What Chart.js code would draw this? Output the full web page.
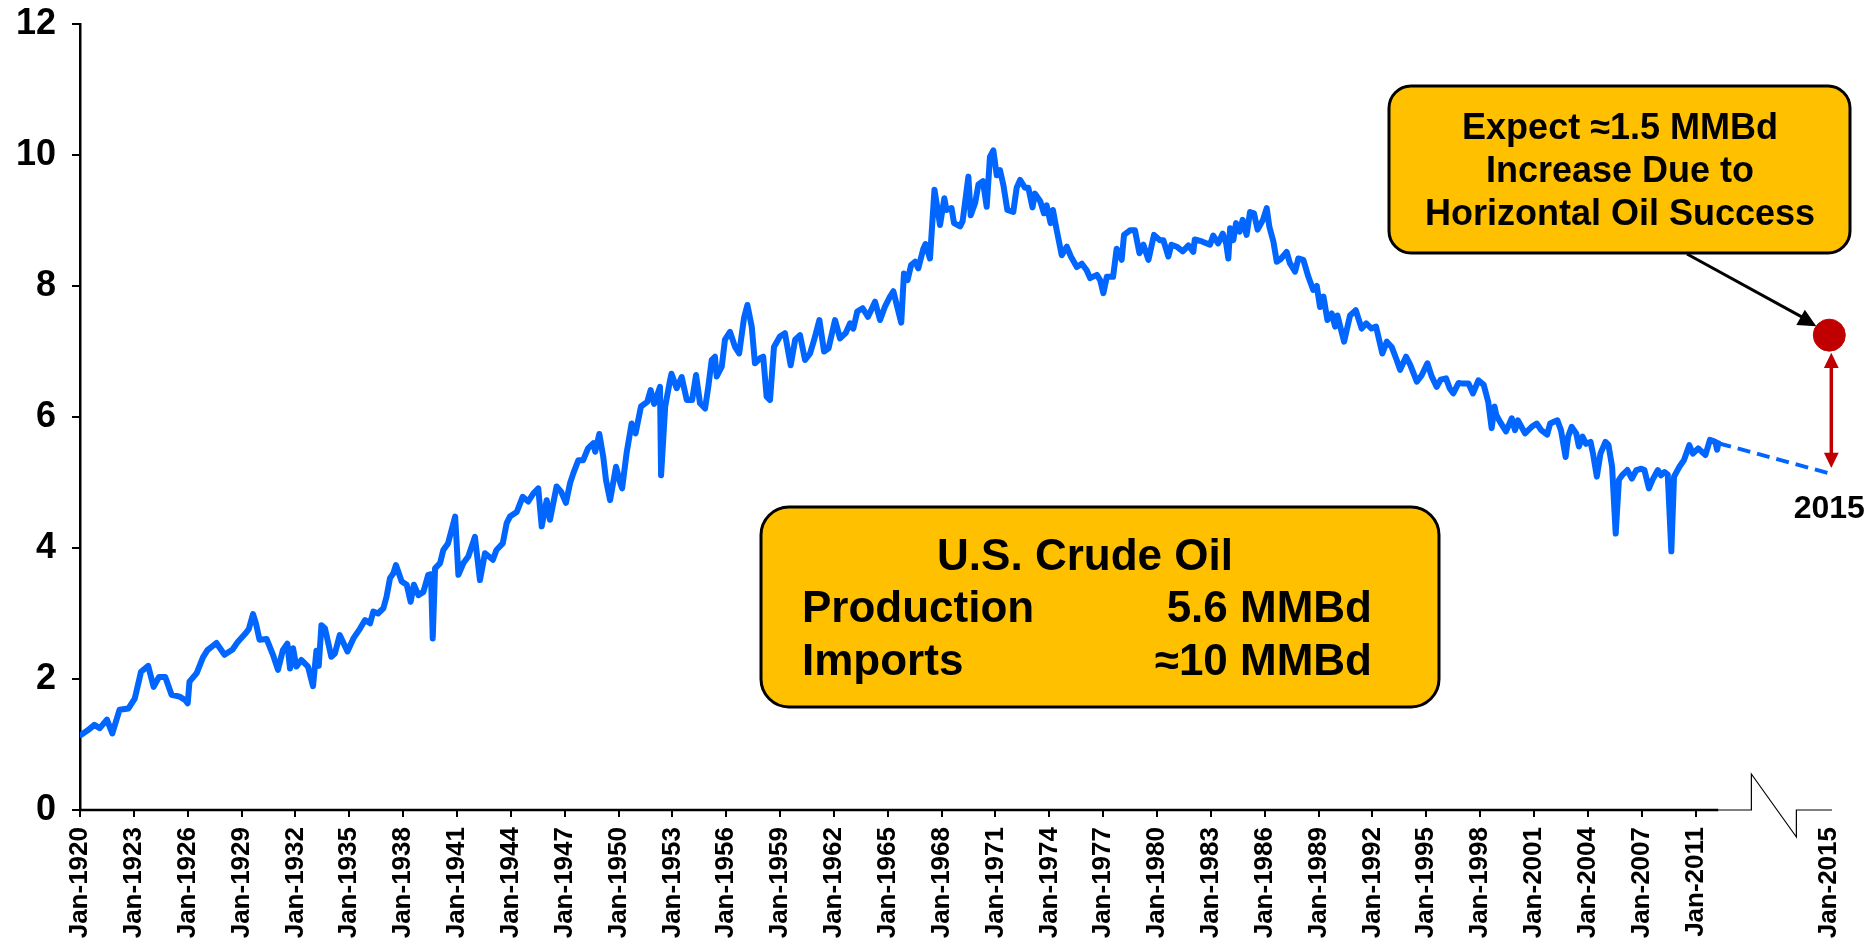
<!DOCTYPE html>
<html>
<head>
<meta charset="utf-8">
<script src="https://cdn.jsdelivr.net/npm/chart.js@4.4.1/dist/chart.umd.min.js"></script>
<style>
    html, body { margin: 0; padding: 0; background: #fff; }
    #wrap { width: 1872px; height: 941px; position: relative; }
</style>
</head>
<body>
<div id="wrap"><canvas id="oilChart"></canvas></div>
<script>
// U.S. crude oil production (MMBd)
// x is the position along the axis in years (Jan-1920 = 1920)
const prodYears = [
    1920.07, 1920.45, 1920.8, 1921.1, 1921.5, 1921.8, 1922.2, 1922.7, 1923.05, 1923.4,
    1923.8, 1924.1, 1924.4, 1924.75, 1925.1, 1925.55, 1925.85, 1926.0, 1926.1, 1926.5,
    1926.85, 1927.1, 1927.6, 1928.05, 1928.5, 1928.8, 1929.2, 1929.4, 1929.64, 1929.8,
    1930.0, 1930.4, 1930.75, 1931.03, 1931.3, 1931.55, 1931.7, 1931.87, 1932.05, 1932.33,
    1932.7, 1932.98, 1933.17, 1933.3, 1933.45, 1933.65, 1934.0, 1934.2, 1934.47, 1934.9,
    1935.23, 1935.6, 1935.88, 1936.16, 1936.34, 1936.6, 1936.9, 1937.08, 1937.27, 1937.45,
    1937.6, 1937.92, 1938.2, 1938.42, 1938.6, 1938.85, 1939.13, 1939.4, 1939.55, 1939.65,
    1939.78, 1940.06, 1940.24, 1940.5, 1940.9, 1941.08, 1941.36, 1941.63, 1942.0, 1942.28,
    1942.56, 1943.0, 1943.2, 1943.55, 1943.77, 1943.95, 1944.33, 1944.66, 1944.97, 1945.25,
    1945.53, 1945.72, 1946.0, 1946.18, 1946.55, 1946.8, 1947.07, 1947.3, 1947.48, 1947.76,
    1948.03, 1948.3, 1948.6, 1948.7, 1948.93, 1949.15, 1949.3, 1949.53, 1949.86, 1950.1,
    1950.2, 1950.45, 1950.73, 1950.95, 1951.25, 1951.6, 1951.79, 1951.98, 1952.31, 1952.37,
    1952.6, 1952.87, 1952.95, 1953.24, 1953.52, 1953.8, 1954.1, 1954.32, 1954.54, 1954.82,
    1955.0, 1955.19, 1955.37, 1955.47, 1955.75, 1955.93, 1956.21, 1956.49, 1956.72, 1956.99,
    1957.18, 1957.42, 1957.6, 1957.9, 1958.06, 1958.25, 1958.44, 1958.66, 1958.99, 1959.27,
    1959.59, 1959.84, 1960.11, 1960.39, 1960.67, 1960.9, 1961.19, 1961.45, 1961.7, 1962.06,
    1962.34, 1962.65, 1962.9, 1963.08, 1963.3, 1963.6, 1963.9, 1964.29, 1964.57, 1964.85,
    1965.13, 1965.31, 1965.5, 1965.75, 1965.9, 1966.1, 1966.3, 1966.52, 1966.7, 1966.98,
    1967.1, 1967.35, 1967.6, 1967.91, 1968.15, 1968.27, 1968.55, 1968.69, 1969.03, 1969.17,
    1969.49, 1969.62, 1969.87, 1970.05, 1970.3, 1970.51, 1970.69, 1970.88, 1971.07, 1971.25,
    1971.44, 1971.66, 1971.99, 1972.18, 1972.37, 1972.64, 1972.83, 1973.06, 1973.2, 1973.5,
    1973.7, 1973.85, 1974.07, 1974.2, 1974.41, 1974.69, 1974.97, 1975.2, 1975.53, 1975.81,
    1976.08, 1976.27, 1976.65, 1976.83, 1977.01, 1977.2, 1977.55, 1977.75, 1978.03, 1978.16,
    1978.49, 1978.77, 1979.02, 1979.24, 1979.52, 1979.83, 1980.16, 1980.35, 1980.63, 1980.8,
    1981.1, 1981.43, 1981.75, 1982.02, 1982.1, 1982.5, 1982.95, 1983.13, 1983.4, 1983.66,
    1983.85, 1983.97, 1984.07, 1984.25, 1984.4, 1984.6, 1984.77, 1984.99, 1985.18, 1985.4,
    1985.6, 1985.9, 1986.11, 1986.26, 1986.48, 1986.67, 1986.85, 1987.22, 1987.4, 1987.69,
    1987.87, 1988.15, 1988.43, 1988.7, 1988.9, 1989.08, 1989.27, 1989.49, 1989.73, 1989.92,
    1990.05, 1990.42, 1990.75, 1991.07, 1991.4, 1991.65, 1991.95, 1992.2, 1992.55, 1992.8,
    1993.07, 1993.35, 1993.54, 1993.87, 1994.1, 1994.47, 1994.75, 1995.06, 1995.3, 1995.58,
    1995.8, 1996.1, 1996.3, 1996.5, 1996.8, 1997.05, 1997.35, 1997.6, 1997.9, 1998.2,
    1998.45, 1998.64, 1998.8, 1998.9, 1999.1, 1999.44, 1999.76, 1999.94, 2000.1, 2000.5,
    2000.87, 2001.15, 2001.4, 2001.73, 2001.9, 2002.3, 2002.5, 2002.76, 2002.9, 2003.1,
    2003.35, 2003.5, 2003.7, 2003.9, 2004.15, 2004.3, 2004.5, 2004.7, 2004.98, 2005.15,
    2005.35, 2005.55, 2005.73, 2005.9, 2006.2, 2006.45, 2006.7, 2006.98, 2007.15, 2007.4,
    2007.6, 2007.9, 2008.07, 2008.27, 2008.45, 2008.65, 2008.8, 2009.1, 2009.35, 2009.65,
    2009.85, 2010.15, 2010.55, 2010.8, 2011.1, 2011.2, 2011.27
];
const prodValues = [
    1.15, 1.22, 1.30, 1.25, 1.38, 1.17, 1.53, 1.55, 1.70, 2.11,
    2.20, 1.88, 2.03, 2.03, 1.76, 1.73, 1.68, 1.63, 1.96, 2.09,
    2.33, 2.44, 2.55, 2.37, 2.45, 2.57, 2.69, 2.76, 2.99, 2.85,
    2.60, 2.61, 2.37, 2.14, 2.44, 2.54, 2.16, 2.47, 2.19, 2.29,
    2.19, 1.89, 2.43, 2.20, 2.82, 2.77, 2.34, 2.39, 2.67, 2.42,
    2.62, 2.77, 2.90, 2.85, 3.03, 3.00, 3.08, 3.26, 3.54, 3.61,
    3.74, 3.49, 3.44, 3.18, 3.44, 3.28, 3.33, 3.59, 3.60, 2.62,
    3.69, 3.77, 3.97, 4.07, 4.48, 3.59, 3.77, 3.87, 4.17, 3.51,
    3.92, 3.82, 3.97, 4.07, 4.38, 4.48, 4.55, 4.78, 4.71, 4.83,
    4.91, 4.33, 4.73, 4.43, 4.94, 4.86, 4.69, 4.99, 5.14, 5.34,
    5.34, 5.52, 5.60, 5.47, 5.74, 5.39, 5.04, 4.73, 5.24, 4.99,
    4.91, 5.45, 5.90, 5.75, 6.16, 6.23, 6.41, 6.20, 6.46, 5.11,
    6.16, 6.56, 6.66, 6.44, 6.61, 6.26, 6.26, 6.64, 6.21, 6.13,
    6.46, 6.87, 6.92, 6.62, 6.77, 7.18, 7.30, 7.07, 6.97, 7.51,
    7.71, 7.38, 6.82, 6.90, 6.92, 6.31, 6.26, 7.07, 7.23, 7.28,
    6.79, 7.18, 7.25, 6.87, 6.97, 7.18, 7.48, 7.00, 7.05, 7.48,
    7.20, 7.28, 7.43, 7.35, 7.61, 7.66, 7.53, 7.76, 7.48, 7.69,
    7.84, 7.92, 7.71, 7.44, 8.19, 8.09, 8.32, 8.37, 8.27, 8.57,
    8.64, 8.42, 9.47, 8.93, 9.34, 9.16, 9.19, 8.96, 8.91, 8.99,
    9.67, 9.08, 9.27, 9.55, 9.60, 9.21, 9.97, 10.07, 9.69, 9.77,
    9.54, 9.16, 9.13, 9.50, 9.62, 9.50, 9.50, 9.20, 9.41, 9.29,
    9.11, 9.23, 8.96, 9.16, 8.85, 8.47, 8.60, 8.45, 8.29, 8.34,
    8.24, 8.12, 8.17, 8.09, 7.89, 8.14, 8.14, 8.57, 8.40, 8.78,
    8.85, 8.85, 8.50, 8.63, 8.40, 8.78, 8.70, 8.70, 8.45, 8.63,
    8.60, 8.53, 8.62, 8.52, 8.71, 8.68, 8.63, 8.77, 8.65, 8.80,
    8.65, 8.42, 8.88, 8.70, 8.96, 8.83, 9.01, 8.78, 9.13, 9.11,
    8.86, 9.01, 9.19, 8.90, 8.68, 8.37, 8.40, 8.52, 8.35, 8.22,
    8.42, 8.40, 8.14, 7.94, 8.00, 7.68, 7.84, 7.48, 7.58, 7.38,
    7.55, 7.15, 7.55, 7.63, 7.35, 7.43, 7.35, 7.38, 6.97, 7.15,
    7.07, 6.87, 6.72, 6.92, 6.80, 6.54, 6.64, 6.82, 6.62, 6.46,
    6.57, 6.59, 6.44, 6.36, 6.52, 6.51, 6.51, 6.36, 6.56, 6.49,
    6.23, 5.83, 6.16, 6.03, 5.93, 5.78, 5.98, 5.80, 5.95, 5.75,
    5.85, 5.90, 5.80, 5.73, 5.90, 5.95, 5.80, 5.39, 5.70, 5.85,
    5.75, 5.55, 5.70, 5.59, 5.62, 5.42, 5.09, 5.44, 5.62, 5.57,
    5.24, 4.22, 5.04, 5.11, 5.19, 5.06, 5.19, 5.21, 5.19, 4.91,
    5.04, 5.19, 5.11, 5.16, 5.12, 3.95, 5.09, 5.24, 5.34, 5.57,
    5.44, 5.52, 5.42, 5.65, 5.62, 5.50, 5.60
];

// Projection to 2015 (axis is broken after 2011, Jan-2015 sits at breakPos)
const breakPos = 2017.45;
const projValue = 5.14;        // trend continued to 2015
const expectValue = 7.25;      // expected with horizontal oil
const arrowRange = [5.22, 6.98];

// Tick labels
const tickPositions = [];
for (let i = 0; i <= 30; i++) tickPositions.push(1920 + 3 * i);
const tickLabels = [
    'Jan-1920', 'Jan-1923', 'Jan-1926', 'Jan-1929', 'Jan-1932', 'Jan-1935', 'Jan-1938',
    'Jan-1941', 'Jan-1944', 'Jan-1947', 'Jan-1950', 'Jan-1953', 'Jan-1956', 'Jan-1959',
    'Jan-1962', 'Jan-1965', 'Jan-1968', 'Jan-1971', 'Jan-1974', 'Jan-1977', 'Jan-1980',
    'Jan-1983', 'Jan-1986', 'Jan-1989', 'Jan-1992', 'Jan-1995', 'Jan-1998', 'Jan-2001',
    'Jan-2004', 'Jan-2007', 'Jan-2011'
];
const breakLabel = 'Jan-2015';

const FONT = "'Liberation Sans', Arial, sans-serif";

function roundRect(ctx, x, y, w, h, r) {
    ctx.beginPath();
    ctx.moveTo(x + r, y);
    ctx.arcTo(x + w, y, x + w, y + h, r);
    ctx.arcTo(x + w, y + h, x, y + h, r);
    ctx.arcTo(x, y + h, x, y, r);
    ctx.arcTo(x, y, x + w, y, r);
    ctx.closePath();
    ctx.fillStyle = '#FFC000';
    ctx.fill();
    ctx.lineWidth = 3;
    ctx.strokeStyle = '#000';
    ctx.stroke();
}

function arrowHead(ctx, fromX, fromY, toX, toY, size, color) {
    const ang = Math.atan2(toY - fromY, toX - fromX);
    ctx.beginPath();
    ctx.moveTo(toX, toY);
    ctx.lineTo(toX - size * Math.cos(ang - 0.45), toY - size * Math.sin(ang - 0.45));
    ctx.lineTo(toX - size * Math.cos(ang + 0.45), toY - size * Math.sin(ang + 0.45));
    ctx.closePath();
    ctx.fillStyle = color;
    ctx.fill();
}

// Broken x axis, arrows and the two call-out boxes
const decorations = {
    id: 'decorations',
    afterDatasetsDraw(chart) {
        const { ctx, scales: { x, y } } = chart;
        const base = y.bottom;
        const axisEnd = x.getPixelForValue(prodYears[prodYears.length - 1]);
        ctx.save();

        // axis line up to the last data point
        ctx.strokeStyle = '#000';
        ctx.lineWidth = 2.5;
        ctx.beginPath();
        ctx.moveTo(x.left - 1, base);
        ctx.lineTo(axisEnd, base);
        ctx.stroke();

        // break symbol
        ctx.lineWidth = 1.2;
        ctx.beginPath();
        ctx.moveTo(axisEnd, base);
        ctx.lineTo(axisEnd + 33, base);
        ctx.lineTo(axisEnd + 33, base - 36);
        ctx.lineTo(axisEnd + 78, base + 27);
        ctx.lineTo(axisEnd + 78, base);
        ctx.lineTo(x.right, base);
        ctx.stroke();

        // red double arrow
        const ax = x.getPixelForValue(breakPos) + 2;
        const aTop = y.getPixelForValue(arrowRange[1]);
        const aBot = y.getPixelForValue(arrowRange[0]);
        ctx.strokeStyle = '#C00000';
        ctx.lineWidth = 3.5;
        ctx.beginPath();
        ctx.moveTo(ax, aTop + 14);
        ctx.lineTo(ax, aBot - 14);
        ctx.stroke();
        arrowHead(ctx, ax, aBot, ax, aTop, 17, '#C00000');
        arrowHead(ctx, ax, aTop, ax, aBot, 17, '#C00000');

        // 2015 label
        ctx.fillStyle = '#000';
        ctx.font = 'bold 32px ' + FONT;
        ctx.textAlign = 'center';
        ctx.textBaseline = 'middle';
        ctx.fillText('2015', x.getPixelForValue(breakPos), y.getPixelForValue(projValue) + 36);

        // upper call-out
        const dotX = x.getPixelForValue(breakPos);
        const dotY = y.getPixelForValue(expectValue);
        ctx.strokeStyle = '#000';
        ctx.lineWidth = 3;
        ctx.beginPath();
        ctx.moveTo(1687, 254);
        ctx.lineTo(dotX - 18, dotY - 13);
        ctx.stroke();
        arrowHead(ctx, 1687, 254, dotX - 13, dotY - 9, 20, '#000');

        roundRect(ctx, 1389, 86, 461, 167, 22);
        ctx.fillStyle = '#000';
        ctx.font = 'bold 36px ' + FONT;
        ctx.textAlign = 'center';
        ctx.textBaseline = 'alphabetic';
        ctx.fillText('Expect \u22481.5 MMBd', 1620, 139);
        ctx.fillText('Increase Due to', 1620, 182);
        ctx.fillText('Horizontal Oil Success', 1620, 225);

        // lower call-out
        roundRect(ctx, 761, 507, 678, 200, 28);
        ctx.fillStyle = '#000';
        ctx.font = 'bold 44px ' + FONT;
        ctx.textAlign = 'center';
        ctx.fillText('U.S. Crude Oil', 1085, 570);
        ctx.textAlign = 'left';
        ctx.fillText('Production', 802, 622);
        ctx.fillText('Imports', 802, 675);
        ctx.textAlign = 'right';
        ctx.fillText('5.6 MMBd', 1372, 622);
        ctx.fillText('\u224810 MMBd', 1372, 675);

        ctx.restore();
    }
};

document.addEventListener('DOMContentLoaded', function() {
    const ctx = document.getElementById('oilChart').getContext('2d');
    const lastX = prodYears[prodYears.length - 1];
    const lastY = prodValues[prodValues.length - 1];

    new Chart(ctx, {
        type: 'line',
        data: {
            datasets: [
                {
                    label: 'Production',
                    data: prodYears.map((yr, i) => ({ x: yr, y: prodValues[i] })),
                    borderColor: '#0066FF',
                    borderWidth: 6,
                    borderJoinStyle: 'round',
                    borderCapStyle: 'round',
                    pointRadius: 0,
                    tension: 0
                },
                {
                    label: 'Projection',
                    data: [{ x: lastX, y: lastY }, { x: breakPos, y: projValue }],
                    borderColor: '#0066FF',
                    borderWidth: 4,
                    borderDash: [13, 7],
                    pointRadius: 0,
                    tension: 0,
                    clip: false
                },
                {
                    label: 'Expected',
                    type: 'scatter',
                    data: [{ x: breakPos, y: expectValue }],
                    backgroundColor: '#C00000',
                    borderColor: '#C00000',
                    pointRadius: 16,
                    clip: false
                }
            ]
        },
        options: {
            responsive: true,
            maintainAspectRatio: false,
            animation: false,
            layout: { padding: { top: 24, right: 40, left: 0, bottom: 0 } },
            plugins: {
                legend: { display: false },
                tooltip: { enabled: false }
            },
            scales: {
                x: {
                    type: 'linear',
                    min: 1920,
                    max: 2017.6,
                    afterBuildTicks: function(scale) {
                        scale.ticks = tickPositions.concat([breakPos]).map(v => ({ value: v }));
                    },
                    afterFit: function(scale) {
                        scale.height = 131;
                        scale.paddingLeft = 0;
                        scale.paddingRight = 0;
                    },
                    ticks: {
                        autoSkip: false,
                        minRotation: 90,
                        maxRotation: 90,
                        padding: 10,
                        color: '#000',
                        font: { family: FONT, size: 26, weight: 'bold' },
                        callback: function(value, index) {
                            return index < tickLabels.length ? tickLabels[index] : breakLabel;
                        }
                    },
                    grid: {
                        drawOnChartArea: false,
                        tickLength: 7,
                        lineWidth: 2,
                        color: c => (c.tick && c.tick.value === breakPos) ? 'rgba(0,0,0,0)' : '#000'
                    },
                    border: { display: false }
                },
                y: {
                    min: 0,
                    max: 12,
                    afterFit: function(scale) {
                        scale.width = 80;
                        scale.paddingTop = 0;
                        scale.paddingBottom = 0;
                    },
                    ticks: {
                        stepSize: 2,
                        padding: 16,
                        color: '#000',
                        font: { family: FONT, size: 36, weight: 'bold' }
                    },
                    grid: {
                        drawOnChartArea: false,
                        tickLength: 8,
                        lineWidth: 2,
                        color: '#000'
                    },
                    border: { display: true, color: '#000', width: 2.5 }
                }
            }
        },
        plugins: [decorations]
    });
});
</script>
</body>
</html>
